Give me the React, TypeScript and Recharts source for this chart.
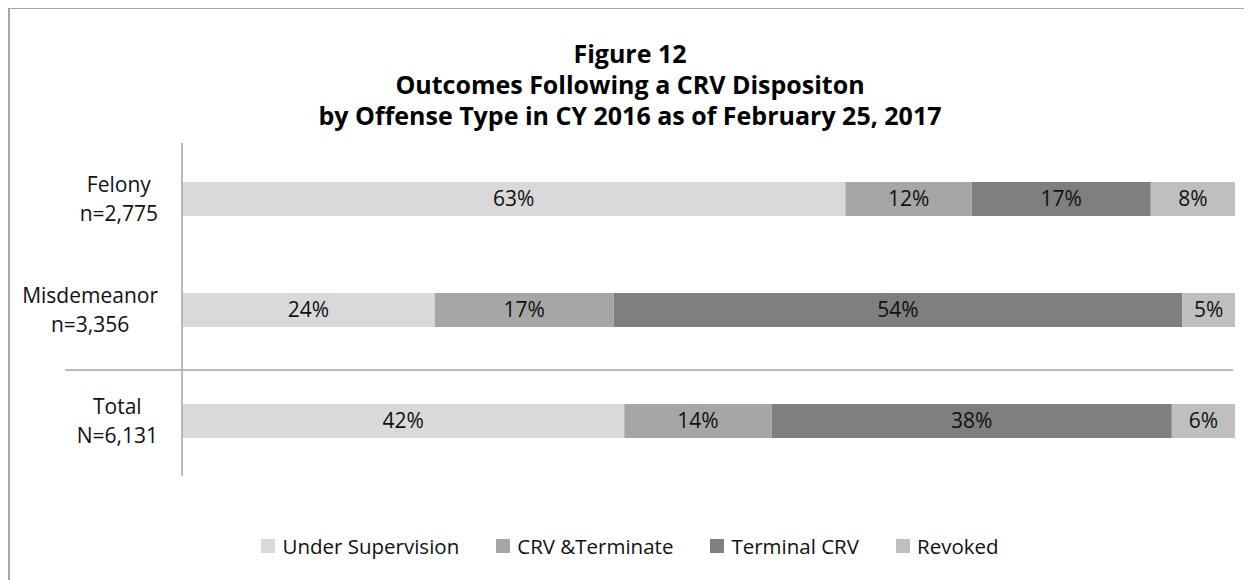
import React from 'react';
import { BarChart, Bar, XAxis, YAxis, Legend, LabelList } from 'recharts';

const categoryNames = ['Felony', 'Misdemeanor', 'Total'];
const categoryCounts = ['n=2,775', 'n=3,356', 'N=6,131'];
const underSupervision = [63, 24, 42];
const crvTerminate = [12, 17, 14];
const terminalCrv = [17, 54, 38];
const revoked = [8, 5, 6];

const seriesNames = ['Under Supervision', 'CRV &Terminate', 'Terminal CRV', 'Revoked'];
const seriesKeys = ['under', 'crvt', 'term', 'rev'];
const seriesColors = ['#d9d9d9', '#a6a6a6', '#7f7f7f', '#bfbfbf'];

const titleLines = [
  'Figure 12',
  'Outcomes Following a CRV Dispositon',
  'by Offense Type in CY 2016 as of February 25, 2017',
];

const data = categoryNames.map((name, i) => ({
  name,
  count: categoryCounts[i],
  under: underSupervision[i],
  crvt: crvTerminate[i],
  term: terminalCrv[i],
  rev: revoked[i],
}));

const FONT = "'Open Sans', sans-serif";
const W = 1244;
const H = 572;
const MARGIN = { top: 135, right: 17, bottom: 104, left: 0 };
const YAXIS_W = 174;
const TICK_FS = 21;

let ctx: CanvasRenderingContext2D | null = null;
function measure(text: string, size: number) {
  if (!ctx) {
    const c = document.createElement('canvas');
    ctx = c.getContext('2d');
  }
  if (!ctx) return text.length * size * 0.55;
  ctx.font = `${size}px 'Open Sans'`;
  return ctx.measureText(text).width;
}

const YTick = (props: any) => {
  const { x, y, payload } = props;
  const i = categoryNames.indexOf(payload.value);
  const l1 = payload.value;
  const l2 = categoryCounts[i] ?? '';
  const maxW = Math.max(measure(l1, TICK_FS), measure(l2, TICK_FS));
  const cx = x - maxW / 2;
  const half = payload.offset || 55.5;
  return (
    <g>
      {i === 2 && (
        <line x1={57} x2={W - MARGIN.right - 2} y1={y - half + 5} y2={y - half + 5} stroke="#a6a6a6" strokeWidth={1.5} />
      )}
      <text x={cx} y={y - 14.5} textAnchor="middle" dominantBaseline="central" fontFamily={FONT} fontSize={TICK_FS} fill="#111">
        {l1}
      </text>
      <text x={cx} y={y + 14.5} textAnchor="middle" dominantBaseline="central" fontFamily={FONT} fontSize={TICK_FS} fill="#111">
        {l2}
      </text>
    </g>
  );
};

const LegendContent = () => (
  <div style={{ display: 'flex', justifyContent: 'center', alignItems: 'center', fontFamily: FONT, fontSize: 20.5, color: '#111' }}>
    {seriesNames.map((n, i) => (
      <div key={n} style={{ display: 'flex', alignItems: 'center', marginRight: i < seriesNames.length - 1 ? 37 : 0 }}>
        <span style={{ display: 'inline-block', width: 14, height: 14, background: seriesColors[i], marginRight: 7 }} />
        <span>{n}</span>
      </div>
    ))}
  </div>
);

export default function App() {
  return (
    <div style={{ position: 'relative', width: W, height: H }}>
      <div
        style={{
          position: 'absolute',
          top: -1,
          left: 0,
          width: W - 2,
          height: H - 1,
          borderTop: '2px solid #a6a6a6',
          borderLeft: '2px solid #a6a6a6',
          pointerEvents: 'none',
        }}
      />
      <div
        style={{
          position: 'absolute',
          top: 30,
          left: 0,
          width: W,
          textAlign: 'center',
          fontFamily: FONT,
          fontWeight: 700,
          fontSize: 25,
          lineHeight: '31px',
          color: '#000',
        }}
      >
        {titleLines.map((t) => (
          <div key={t}>{t}</div>
        ))}
      </div>
      <BarChart width={W} height={H} data={data} layout="vertical" margin={MARGIN}>
        <XAxis type="number" domain={[0, 100]} hide />
        <YAxis
          type="category"
          dataKey="name"
          width={YAXIS_W}
          axisLine={{ stroke: '#a6a6a6', strokeWidth: 1.5 }}
          tickLine={false}
          tickSize={0}
          tickMargin={24}
          tick={<YTick />}
          interval={0}
        />
        <Legend
          layout="horizontal"
          verticalAlign="middle"
          align="center"
          wrapperStyle={{ top: 524, left: 0, width: W }}
          content={<LegendContent />}
        />
        {seriesKeys.map((k, i) => (
          <Bar key={k} dataKey={k} name={seriesNames[i]} stackId="a" fill={seriesColors[i]} barSize={34} isAnimationActive={false}>
            <LabelList
              dataKey={k}
              position="center"
              formatter={(v: any) => `${v}%`}
              fill="#111"
              fontFamily={FONT}
              fontSize={21}
            />
          </Bar>
        ))}
      </BarChart>
    </div>
  );
}
